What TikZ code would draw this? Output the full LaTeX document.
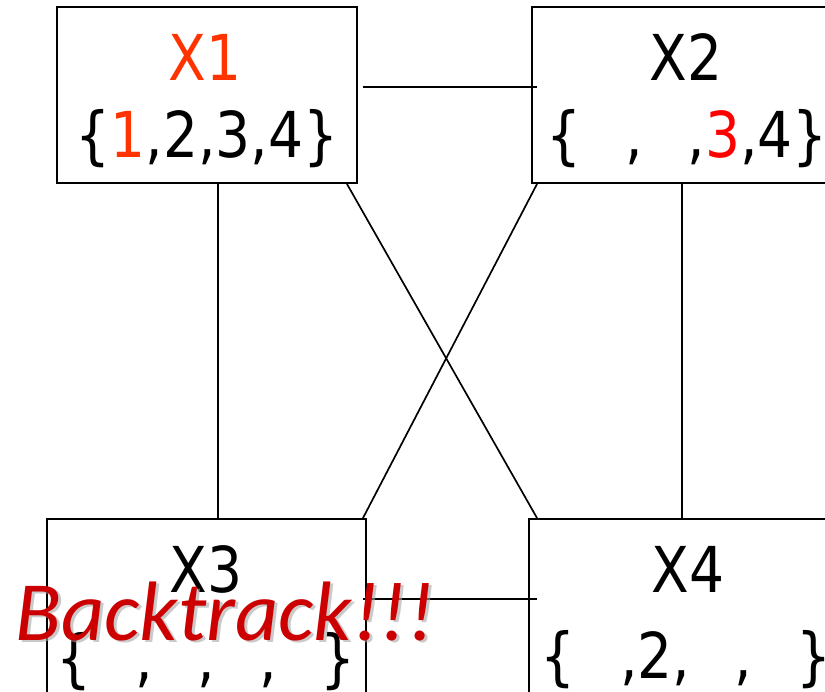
\documentclass[tikz,border=0pt]{standalone}
\usepackage{fontspec}
\setmainfont{DejaVu Sans}[FakeStretch=0.87]
\newfontfamily\btfont{Carlito}
\definecolor{xorange}{RGB}{255,51,0}
\definecolor{xred}{RGB}{255,0,0}
\definecolor{btred}{RGB}{204,0,0}
\newcommand\blankval{\hspace{0.7em}}
\usetikzlibrary{positioning,calc}

\begin{document}
\begin{tikzpicture}[x=0.025cm,y=-0.025cm,
  var/.style={draw,line width=1.3pt,rectangle,minimum height=4.4cm,inner sep=0pt},
  lbl/.style={font=\fontsize{45}{54}\selectfont,anchor=base,inner sep=0pt},
  link/.style={line width=1.2pt}]
  \clip (0,0) rectangle (825,692);
  \useasboundingbox (0,0) rectangle (825,692);
  % boxes
  \node[var,minimum width=7.5cm] (xa) at (207,95) {};
  \node[var,minimum width=7.5cm] (xb) at (682,95) {};
  \node[var,minimum width=7.975cm] (xc) at (206.5,607) {};
  \node[var,minimum width=7.5cm] (xd) at (679,607) {};
  % arestas
  \draw[link] ([xshift=0.125cm,yshift=0.2cm]xa.east) -- ([xshift=0.15cm,yshift=0.2cm]xb.west);
  \draw[link] ([xshift=0.275cm]xa.south) -- ([xshift=0.275cm]xa.south |- xc.north);
  \draw[link] (xb.south) -- (xb.south |- xd.north);
  \draw[link] ([xshift=-0.275cm]xa.south east) -- ([xshift=0.225cm]xd.north west);
  \draw[link] ([xshift=0.15cm]xb.south west) -- ([xshift=-0.1cm]xc.north east);
  \draw[link] ([xshift=-0.1cm,yshift=0.2cm]xc.east) -- ([xshift=0.225cm,yshift=0.2cm]xd.west);
  % rotulos
  \node[lbl,xorange] (xaname) at (205,80) {X1};
  \node[lbl] (xadom) at (207,157) {\{\textcolor{xorange}{1},2,3,4\}};
  \node[lbl] (xbname) at (686,80) {X2};
  \node[lbl] (xbdom) at (687,157) {\{\blankval,\blankval,\textcolor{xred}{3},4\}};
  \node[lbl] (xcname) at (206,592) {X3};
  \node[lbl] (xcdom) at (206,680) {\{\blankval,\blankval,\blankval,\blankval\}};
  \node[lbl] (xdname) at (688,592) {X4};
  \node[lbl] (xddom) at (686,678) {\{\blankval,2,\blankval,\blankval\}};
  % backtrack
  \node[lbl,font=\btfont\itshape\fontsize{60}{72}\selectfont,black!35,opacity=0.6] (btshadow) at (228,642) {Backtrack!!!};
  \node[lbl,font=\btfont\itshape\fontsize{60}{72}\selectfont,btred] (bt) at (225,640) {Backtrack!!!};
\end{tikzpicture}
\end{document}
